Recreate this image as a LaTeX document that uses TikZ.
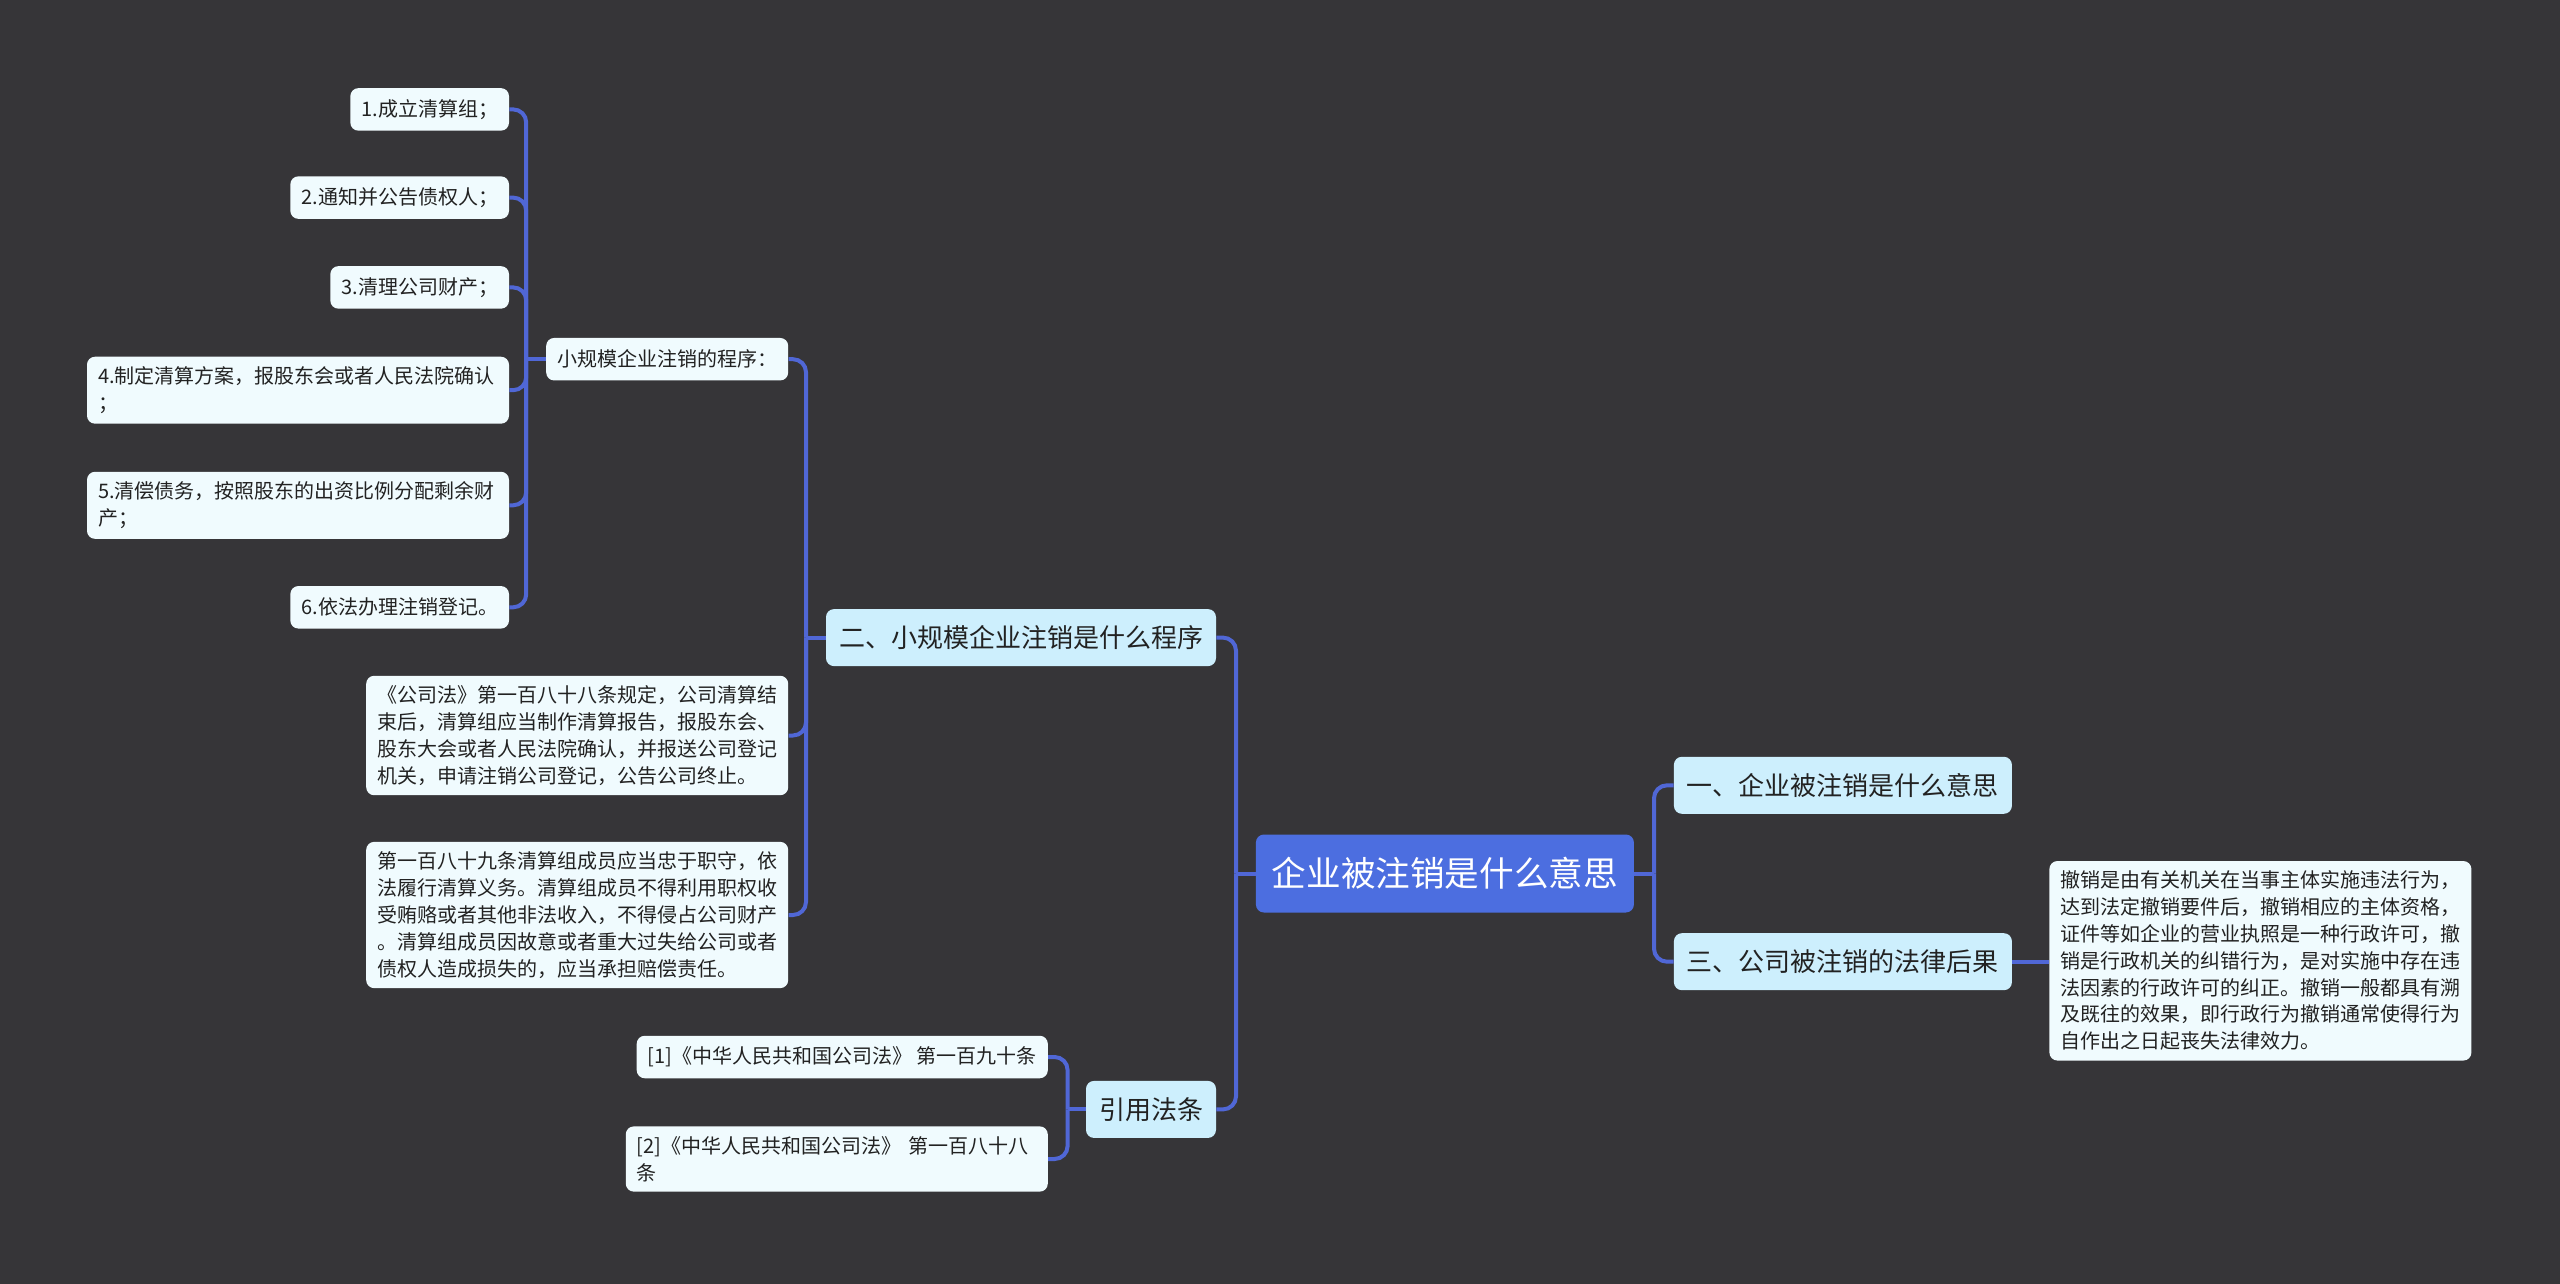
\documentclass[tikz,border=0pt]{standalone}
\usepackage{fontspec}
\setmainfont{Noto Sans CJK SC}
\definecolor{mmback}{HTML}{363538}
\definecolor{mmroot}{HTML}{4C6EE0}
\definecolor{mmmid}{HTML}{CDEFFD}
\definecolor{mmleaf}{HTML}{F0FBFE}
\definecolor{mmline}{HTML}{5067D6}
\definecolor{mmink}{HTML}{222222}

\begin{document}
\begin{tikzpicture}[
  x=0.5pt,y=-0.5pt,
  every node/.style={inner sep=0pt},
  rootbox/.style={fill=mmroot,text=white,rounded corners=4pt,font=\fontsize{17.3pt}{20pt}\selectfont,inner xsep=8pt,minimum height=39pt},
  midbox/.style={fill=mmmid,text=mmink,rounded corners=4pt,font=\fontsize{13pt}{16pt}\selectfont,inner xsep=6.5pt,minimum height=28.5pt},
  leaf/.style={fill=mmleaf,text=mmink,rounded corners=4pt,font=\fontsize{10pt}{13.4pt}\selectfont,inner xsep=5.5pt,inner ysep=5pt,minimum height=21.25pt,align=left},
  widebox/.style={text width=200pt},
  link/.style={draw=mmline,line width=2pt,rounded corners=6.5pt}
]
\fill[mmback] (0,0) rectangle (2560,1284);
\useasboundingbox (0,0) rectangle (2560,1284);

% root and right side
\node[rootbox,anchor=west] (root) at (1255.5,873.5) {企业被注销是什么意思};
\node[midbox,anchor=west] (sec1) at (1673.5,785.3) {一、企业被注销是什么意思};
\node[midbox,anchor=west] (sec3) at (1673.5,961.7) {三、公司被注销的法律后果};
\node[leaf,widebox,anchor=west] (effect) at (2049,960.8) {撤销是由有关机关在当事主体实施违法行为，\\达到法定撤销要件后，撤销相应的主体资格，\\证件等如企业的营业执照是一种行政许可，撤\\销是行政机关的纠错行为，是对实施中存在违\\法因素的行政许可的纠正。撤销一般都具有溯\\及既往的效果，即行政行为撤销通常使得行为\\自作出之日起丧失法律效力。};

% left side
\node[midbox,anchor=east] (sec2) at (1216.4,637.6) {二、小规模企业注销是什么程序};
\node[midbox,anchor=east] (cite) at (1216.4,1109.4) {引用法条};
\node[leaf,anchor=east] (proc) at (788.6,359.2) {小规模企业注销的程序：};
\node[leaf,widebox,anchor=east] (law188) at (788.6,735.5) {《公司法》第一百八十八条规定，公司清算结\\束后，清算组应当制作清算报告，报股东会、\\股东大会或者人民法院确认，并报送公司登记\\机关，申请注销公司登记，公告公司终止。};
\node[leaf,widebox,anchor=east] (law189) at (788.6,915) {第一百八十九条清算组成员应当忠于职守，依\\法履行清算义务。清算组成员不得利用职权收\\受贿赂或者其他非法收入，不得侵占公司财产\\。清算组成员因故意或者重大过失给公司或者\\债权人造成损失的，应当承担赔偿责任。};

% steps
\node[leaf,anchor=east] (st1) at (509.4,109.4) {1.成立清算组；};
\node[leaf,anchor=east] (st2) at (509.4,197.6) {2.通知并公告债权人；};
\node[leaf,anchor=east] (st3) at (509.4,287.4) {3.清理公司财产；};
\node[leaf,widebox,anchor=east] (st4) at (509.4,390.2) {4.制定清算方案，报股东会或者人民法院确认\\；};
\node[leaf,widebox,anchor=east] (st5) at (509.4,505.3) {5.清偿债务，按照股东的出资比例分配剩余财\\产；};
\node[leaf,anchor=east] (st6) at (509.4,607.3) {6.依法办理注销登记。};

% references
\node[leaf,anchor=east] (ref1) at (1048.2,1057) {[1]《中华人民共和国公司法》 第一百九十条};
\node[leaf,widebox,anchor=east] (ref2) at (1048.2,1159) {[2]《中华人民共和国公司法》 第一百八十八\\条};

% connectors
\draw[link] (root.east) -- ++(19.7,0) coordinate (rj);
\draw[link] (rj) |- (sec1.west);
\draw[link] (rj) |- (sec3.west);
\draw[link] (sec3.east) -- (sec3.east -| effect.west);

\draw[link] (root.west) -- ++(-19.5,0) coordinate (lj);
\draw[link] (lj) |- (sec2.east);
\draw[link] (lj) |- (cite.east);

\draw[link] (sec2.west) -- ++(-19.6,0) coordinate (sj);
\draw[link] (sj) |- (proc.east);
\draw[link] (sj) |- (law188.east);
\draw[link] (sj) |- (law189.east);

\draw[link] (proc.west) -- ++(-19.6,0) coordinate (pj);
\foreach \s in {st1,st2,st3,st4,st5,st6}
  \draw[link] (pj) |- (\s.east);

\draw[link] (cite.west) -- ++(-18,0) coordinate (cj);
\draw[link] (cj) |- (ref1.east);
\draw[link] (cj) |- (ref2.east);
\end{tikzpicture}
\end{document}
